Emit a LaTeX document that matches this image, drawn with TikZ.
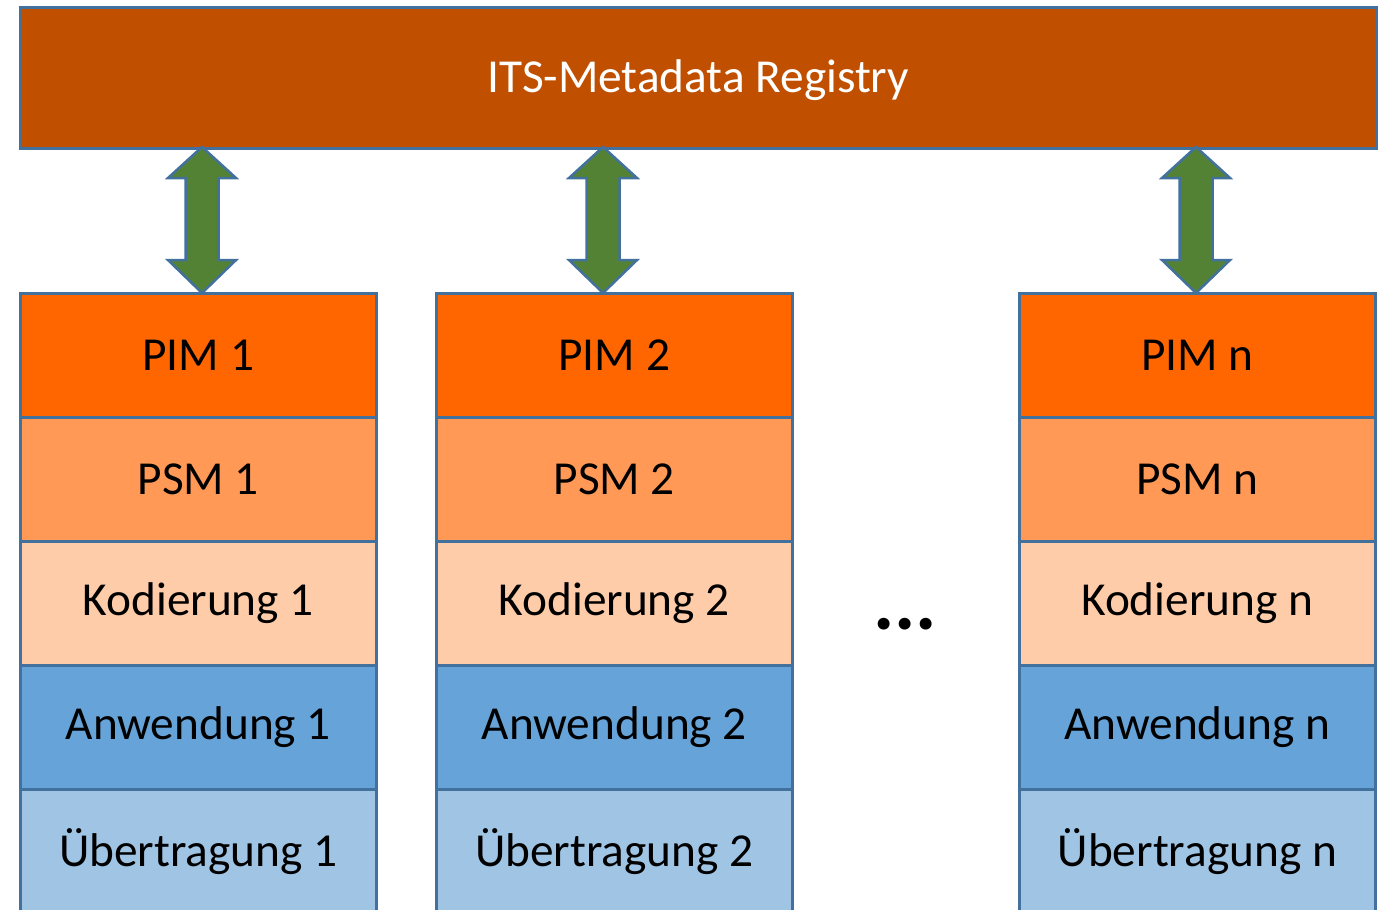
\documentclass[tikz,border=0pt]{standalone}
\usepackage{fontspec}
\setmainfont{Carlito}
\definecolor{regfill}{HTML}{C04F00}
\definecolor{pimfill}{HTML}{FF6600}
\definecolor{psmfill}{HTML}{FF9955}
\definecolor{kodfill}{HTML}{FFCCAA}
\definecolor{anwfill}{HTML}{66A3D8}
\definecolor{uebfill}{HTML}{9FC4E4}
\definecolor{edge}{HTML}{41719C}
\definecolor{arrowfill}{HTML}{548235}
\tikzset{
  layer/.style={draw=edge, line width=2.5bp, minimum width=356bp, minimum height=124bp,
    inner sep=0pt, anchor=north west, font=\fontsize{47.5}{55}\selectfont, text=black},
  blockarrow/.style={draw=edge, line width=2.5bp, fill=arrowfill, line join=miter},
}
% double block arrow between two heights at a given x
\newcommand\twowayarrow[3]{%
  \draw[blockarrow] (#1,#2) -- ++(34,31) -- ++(-17.5,0) -- (#1+16.5,#3-33)
    -- ++(17.5,0) -- (#1,#3) -- ++(-34,-33) -- ++(17.5,0) -- (#1-16.5,#2+31)
    -- ++(-17.5,0) -- cycle;}
\begin{document}
\begin{tikzpicture}[x=1bp, y=-1bp]
\useasboundingbox (0,0) rectangle (1388,909);
\node[draw=edge, line width=2.5bp, fill=regfill, minimum width=1356bp, minimum height=141bp,
  inner sep=0pt, anchor=north west] (reg) at (19,6) {};
\node[text=white, font=\fontsize{47.5}{55}\selectfont] (regtext) at ([yshift=-2bp]reg.center)
  {ITS-Metadata Registry};
% three stacks of layers
\foreach \c/\x/\k in {1/19/1, 2/435/2, 3/1018/n}{
  \node[layer, fill=pimfill] (pim\c) at (\x,292) {PIM \k};
  \node[layer, fill=psmfill] (psm\c) at (\x,416) {PSM \k};
  \node[layer, fill=kodfill] (kod\c) at (\x,540) {Kodierung \k};
  \node[layer, fill=anwfill] (anw\c) at (\x,664) {Anwendung \k};
  \node[layer, fill=uebfill] (ueb\c) at (\x,788) {Übertragung \k};
}
\node[font=\bfseries\fontsize{80}{90}\selectfont, anchor=base, inner sep=0pt] (dots) at (905,629) {...};
\twowayarrow{202}{147}{293}
\twowayarrow{603}{147}{293}
\twowayarrow{1196}{147}{293}
\end{tikzpicture}
\end{document}
